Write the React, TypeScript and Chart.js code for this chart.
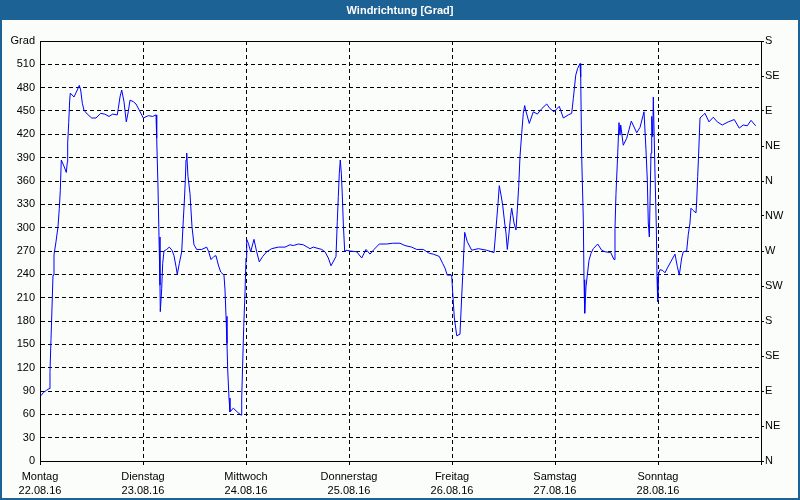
import React, { useEffect, useRef } from "react";
import { Chart, registerables } from "chart.js";

Chart.register(...registerables);

const TITLE = "Windrichtung [Grad]";
const DAY_NAMES = ["Montag", "Dienstag", "Mittwoch", "Donnerstag", "Freitag", "Samstag", "Sonntag"];
const DAY_DATES = ["22.08.16", "23.08.16", "24.08.16", "25.08.16", "26.08.16", "27.08.16", "28.08.16"];
const COMPASS = ["N", "NE", "E", "SE", "S", "SW", "W", "NW", "N", "NE", "E", "SE", "S"];

// hours since Monday 00:00
const HOURS = [
  0.23, 0.77, 1.56, 2.1, 2.33, 2.56, 2.8, 3.03, 3.26, 3.73, 4.19, 4.5, 4.73, 4.96, 5.66, 6.13, 6.36, 6.45, 6.69, 6.92,
  7.06, 7.92, 8.69, 9.16, 9.48, 9.86, 10.25, 11.02, 12.05, 13.05, 14.14, 15.08, 16.08, 16.94, 18.01, 18.24, 18.64, 19.04,
  19.57, 20.11, 20.57, 20.97, 21.74, 22.37, 23.14, 24.07, 25.24, 26.26, 27.03, 27.19, 27.5, 27.73, 27.96, 28.03, 28.36,
  28.59, 28.89, 29.52, 30.13, 30.76, 31.22, 31.69, 31.99, 32.46, 33.02, 33.39, 33.62, 33.86, 34.02, 34.18, 34.48, 34.95,
  35.42, 35.88, 36.51, 37.68, 38.84, 39.31, 39.84, 40.54, 41.01, 41.55, 42.11, 42.87, 43.11, 43.34, 43.57, 43.74, 44.04,
  44.27, 45.04, 45.97, 46.84, 47.0, 47.23, 47.47, 47.77, 48.0, 48.16, 48.54, 49.1, 49.86, 50.49, 51.1, 51.89, 52.82,
  53.99, 55.53, 57.09, 58.25, 59.02, 60.19, 61.35, 62.91, 63.68, 65.64, 66.41, 67.18, 67.81, 68.97, 69.27, 69.51, 69.74,
  69.97, 70.21, 70.44, 70.67, 71.0, 71.3, 72.23, 73.79, 74.96, 75.96, 76.89, 77.83, 79.06, 80.79, 82.18, 83.88, 85.05,
  86.61, 87.78, 89.31, 90.71, 91.64, 93.04, 93.83, 94.37, 94.9, 95.93, 96.17, 96.53, 97.1, 97.86, 98.26, 98.49, 98.96,
  99.56, 100.59, 102.13, 104.08, 105.79, 106.09, 106.41, 106.72, 107.02, 107.42, 107.81, 108.28, 108.58, 108.89, 109.28,
  109.68, 109.91, 110.45, 110.91, 111.22, 111.54, 111.84, 112.24, 112.61, 112.94, 113.17, 114.01, 114.94, 115.88, 116.9,
  118.07, 118.83, 119.77, 121.0, 121.94, 123.1, 123.89, 124.27, 124.83, 125.29, 125.83, 125.99, 126.22, 126.6, 126.76,
  126.92, 127.22, 127.53, 127.92, 128.39, 128.92, 129.95, 130.88, 131.65, 132.98, 133.75, 133.98, 134.21, 134.52, 134.91,
  135.14, 135.31, 135.91, 136.71, 137.78, 139.04, 139.81, 140.74, 141.2, 141.51, 141.74, 141.98, 142.37, 142.54, 142.77,
  142.91, 143.3, 143.61, 143.77, 143.93, 144.16, 144.46, 145.09, 145.63, 146.17, 146.96, 147.96, 148.5, 148.96, 149.52,
  149.89, 150.68, 151.05, 151.45, 151.68, 152.22, 152.85, 153.01, 153.25, 153.48, 153.79, 154.56, 154.95, 155.88, 156.88,
  157.81, 158.98, 160.37, 161.77, 162.93, 163.86, 164.81, 165.67, 166.76,
];

const DEGREES = [
  84, 88, 91, 93, 115, 156, 198, 239, 265, 282, 301, 325, 348, 387, 378, 371, 384, 409, 435, 464,
  473, 468, 477, 483, 477, 460, 451, 446, 441, 441, 447, 446, 443, 446, 445, 453, 468, 477,
  462, 436, 449, 464, 462, 459, 451, 441, 444, 443, 445, 415, 351, 288, 226, 192, 222,
  254, 270, 272, 275, 271, 264, 250, 240, 254, 269, 310, 333, 361, 387, 396, 366, 344,
  301, 278, 272, 272, 275, 269, 259, 263, 264, 252, 243, 239, 220, 186, 151, 117, 81,
  63, 68, 63, 59, 81, 126, 173, 216, 261, 285, 280, 269, 285, 269, 256, 263, 269,
  273, 275, 275, 278, 277, 279, 278, 273, 275, 272, 269, 261, 251, 263, 308, 340, 370,
  387, 370, 342, 306, 269, 271, 270, 269, 261, 272, 266, 272, 279, 279, 280, 280, 277,
  275, 272, 272, 267, 266, 263, 254, 248, 239, 239, 216, 185, 161, 163, 211, 238, 294,
  282, 271, 273, 271, 268, 288, 310, 331, 354, 342, 329, 306, 293, 272, 293,
  316, 325, 306, 297, 323, 353, 391, 421, 447, 457, 451, 434, 449, 446, 453,
  459, 453, 449, 456, 441, 445, 447, 466, 496, 505, 511, 494, 391, 310, 233,
  190, 224, 239, 258, 267, 273, 279, 271, 269, 268, 259, 299, 344, 383, 435,
  419, 432, 406, 415, 437, 422, 429, 449, 400, 361, 306, 288, 396, 443, 417,
  468, 370, 301, 237, 205, 241, 246, 245, 242, 248, 256, 266, 250, 239, 261,
  269, 270, 291, 306, 325, 322, 319, 333, 366, 396, 441, 445, 447, 436, 442,
  436, 432, 436, 439, 428, 432, 431, 438, 431,
];

const FONT = "'Liberation Sans', Arial, sans-serif";

const framePlugin = {
  id: "frame",
  beforeDraw(chart: any) {
    const { ctx, width, height } = chart;
    ctx.save();
    ctx.fillStyle = "#fbfdfb";
    ctx.fillRect(0, 0, width, height);
    ctx.fillStyle = "#1d6295";
    ctx.fillRect(0, 0, width, 20);
    ctx.fillRect(0, 0, 2, height);
    ctx.fillRect(width - 2, 0, 2, height);
    ctx.fillRect(0, height - 2, width, 2);
    ctx.restore();
  },
  afterDatasetsDraw(chart: any) {
    const { ctx, chartArea } = chart;
    ctx.save();
    ctx.strokeStyle = "#000";
    ctx.lineWidth = 1;
    ctx.beginPath();
    ctx.moveTo(Math.round(chartArea.left) + 0.5, Math.round(chartArea.top) + 0.5);
    ctx.lineTo(Math.round(chartArea.right) + 0.5, Math.round(chartArea.top) + 0.5);
    ctx.stroke();
    ctx.restore();
  },
};

export default function App() {
  const ref = useRef<HTMLCanvasElement | null>(null);

  useEffect(() => {
    document.body.style.margin = "0";
    if (!ref.current) return;
    const points = HOURS.map((h, i) => ({ x: h, y: DEGREES[i] }));
    const chart = new Chart(ref.current, {
      type: "line",
      data: {
        datasets: [
          {
            data: points,
            borderColor: "#0000ff",
            borderWidth: 1,
            pointRadius: 0,
            tension: 0,
            fill: false,
            yAxisID: "y",
          },
        ],
      },
      options: {
        animation: false,
        responsive: false,
        devicePixelRatio: 1,
        layout: { padding: { left: 0, right: 0, top: 0, bottom: 0 } },
        plugins: {
          legend: { display: false },
          tooltip: { enabled: false },
          title: {
            display: true,
            text: TITLE,
            color: "#ffffff",
            font: { family: FONT, size: 11, weight: "bold" },
            padding: { top: 4, bottom: 23.8 },
          },
        },
        scales: {
          x: {
            type: "linear",
            min: 0,
            max: 168,
            afterFit: (s: any) => {
              s.height = 39;
            },
            ticks: {
              stepSize: 24,
              autoSkip: false,
              maxRotation: 0,
              color: "#000",
              padding: 4,
              font: { family: FONT, size: 11, lineHeight: 1.36 },
              callback: (v: any) => {
                const i = Math.round(Number(v) / 24);
                return i < 7 ? [DAY_NAMES[i], DAY_DATES[i]] : "";
              },
            },
            grid: {
              color: (c: any) => (c.tick && (c.tick.value === 0 || c.tick.value === 168) ? "rgba(0,0,0,0)" : "#000"),
              lineWidth: 1,
              tickLength: 4,
              tickColor: "#000",
              tickBorderDash: [],
            },
            border: { display: true, color: "#000", width: 1, dash: [4, 3] },
          },
          y: {
            type: "linear",
            position: "left",
            min: 0,
            max: 540,
            afterFit: (s: any) => {
              s.width = 40;
            },
            ticks: {
              stepSize: 30,
              autoSkip: false,
              color: "#000",
              padding: 5,
              font: { family: FONT, size: 11 },
              callback: (v: any) => (Number(v) === 540 ? "Grad" : String(v)),
            },
            grid: {
              color: (c: any) => (c.tick && (c.tick.value === 0 || c.tick.value === 540) ? "rgba(0,0,0,0)" : "#000"),
              lineWidth: 1,
              drawTicks: false,
            },
            border: { display: true, color: "#000", width: 1, dash: [4, 3] },
          },
          y2: {
            type: "linear",
            position: "right",
            min: 0,
            max: 540,
            afterFit: (s: any) => {
              s.width = 39;
            },
            ticks: {
              stepSize: 45,
              autoSkip: false,
              color: "#000",
              padding: 1,
              font: { family: FONT, size: 11 },
              callback: (v: any) => COMPASS[Math.round(Number(v) / 45)] ?? "",
            },
            grid: {
              drawOnChartArea: false,
              tickLength: 3,
              tickColor: "#000",
            },
            border: { display: true, color: "#000", width: 1 },
          },
        },
      },
      plugins: [framePlugin],
    } as any);
    return () => chart.destroy();
  }, []);

  return (
    <div style={{ width: 800, height: 500 }}>
      <canvas ref={ref} width={800} height={500} style={{ display: "block", width: 800, height: 500 }} />
    </div>
  );
}
